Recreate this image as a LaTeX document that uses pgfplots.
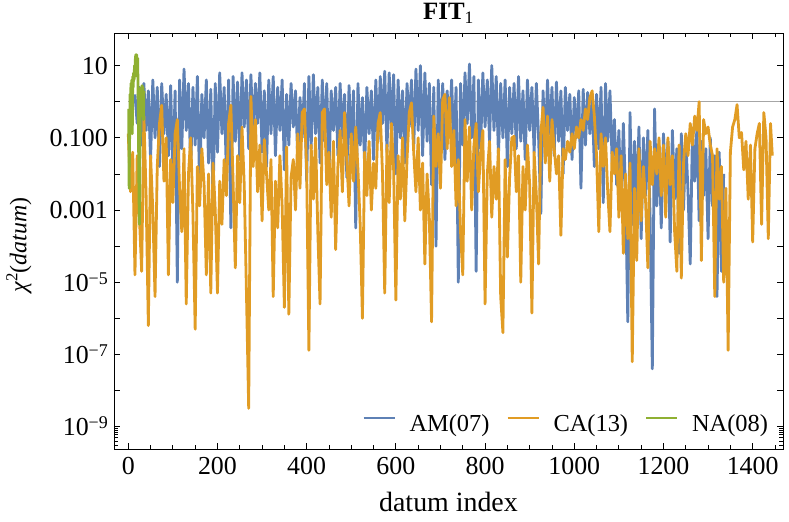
\documentclass[border=0pt]{standalone}
\usepackage{fontspec}
\setmainfont{Liberation Serif}
\usepackage{pgfplots}
\pgfplotsset{compat=1.18}
\definecolor{mblue}{RGB}{94,129,181}
\definecolor{morange}{RGB}{225,156,36}
\definecolor{mgreen}{RGB}{143,176,50}
\newcommand{\tp}[1]{10\raisebox{6.7bp}{\fontsize{18}{18}\selectfont −#1}}
\begin{document}
\begin{tikzpicture}
\begin{axis}[
  scale only axis, width=669bp, height=416bp,
  ymode=log, xmin=-32, xmax=1468, ymin=2.4e-10, ymax=80,
  axis line style={line width=0.8bp, black},
  every tick/.style={black, line width=0.8bp},
  major tick length=6.5bp, minor tick length=4bp,
  xtick={0,200,400,600,800,1000,1200,1400},
  xticklabels={0,200,400,600,800,1000,1200,1400},
  minor xtick={50,100,150,250,300,350,450,500,550,650,700,750,850,900,950,1050,1100,1150,1250,1300,1350,1450},
  ytick={1e-9,1e-8,1e-7,1e-6,1e-5,1e-4,1e-3,1e-2,1e-1,1,10},
  yticklabels={\tp{9},,\tp{7},,\tp{5},,0.001,,0.100,,10},
  minor ytick={3e-10,4e-10,5e-10,6e-10,7e-10,8e-10,9e-10},
  tick label style={font=\fontsize{26}{30}\selectfont},
  yticklabel style={anchor=base east, inner sep=0pt, xshift=-6bp, yshift=-8.8bp},
  xticklabel style={anchor=north, inner sep=0pt, yshift=-8bp},
  title={\textbf{FIT}\textsubscript{1}},
  title style={at={(axis description cs:0.5,1.0185)}, anchor=base, yshift=0pt, inner sep=0pt, font=\fontsize{25}{25}\selectfont},
  xlabel={datum index},
  xlabel style={at={(axis description cs:0.5,-0.1514)}, anchor=base, inner sep=0pt, font=\fontsize{28}{32}\selectfont},
  ylabel={\textit{χ}\textsuperscript{2}(\textit{datum})},
  ylabel style={at={(axis description cs:-0.1308,0.49)}, anchor=base, inner sep=0pt, font=\fontsize{24}{28}\selectfont},
  legend style={draw=none, fill=none, inner sep=0pt, outer sep=0pt,
    at={(axis description cs:0.9776,0.0375)}, anchor=south east,
    font=\fontsize{24.5}{28}\selectfont, nodes={inner sep=0pt},
    /tikz/every odd column/.append style={column sep=14bp},
    /tikz/every even column/.append style={column sep=17bp}},
  legend columns=3,
  legend image code/.code={\draw[#1, line width=2bp] (0bp,6.5bp) -- (31bp,6.5bp);},
]
\coordinate (SW) at (rel axis cs:0,0);
\coordinate (NE) at (rel axis cs:1,1);
\addplot[color=black!35, line width=0.8bp, forget plot] coordinates {(0,1)(1462,1)};
\addplot[color=mblue, line width=2.8bp, line join=round] coordinates {
(15,1.6)(20,2.5e-1)(25,2.5)(30,6.3e-2)(35,3.2)(40,1.6e-1)(45,2)(50,2.5e-2)(55,4)(60,1e-1)(65,2.5)(70,1.6e-2)(75,3.2)(80,1.3e-1)(85,1.6)(90,3.2e-2)(95,2.8)(100,6.3e-3)(105,2)(110,1e-5)(115,4)(120,5e-2)(125,8)(130,1.6e-1)(135,3.2)(140,1.3e-2)(145,2.5)(150,6.3e-2)(155,5)(160,4e-3)(165,1.6)(170,1e-1)(175,4)(180,2e-2)(185,2.2)(190,1.6e-3)(195,3.2)(200,4e-2)(205,6.3)(210,1.3e-1)(215,2.5)(220,1e-2)(225,4)(230,3.2e-4)(235,5)(240,8e-2)(245,3.5)(250,2.5e-2)(255,6.3)(260,2e-1)(265,4)(270,5e-2)(275,5.6)(280,1e-1)(285,3.2)(290,2.5e-1)(295,6.3)(300,4e-2)(305,2)(310,1.6e-2)(315,4)(320,1.3e-1)(325,5)(330,3.2e-2)(335,2.5)(340,1.6e-1)(345,4)(350,1.3e-2)(355,1.6)(360,6.3e-2)(365,3.2)(370,2e-1)(375,2)(380,2.5e-2)(385,1.3)(390,1e-1)(395,3.2)(400,6.3e-3)(405,5)(410,5e-2)(415,5.6)(420,1.3e-1)(425,2.5)(430,2e-2)(435,4)(440,8e-2)(445,3.2)(450,1e-2)(455,2)(460,1.6e-1)(465,2.5)(470,3.2e-2)(475,3.2)(480,1e-1)(485,1.6)(490,8e-3)(495,2.8)(500,5e-2)(505,2)(510,3.2e-4)(515,3.2)(520,6.3e-2)(525,1.3)(530,1.6e-2)(535,2.5)(540,1.3e-1)(545,2)(550,2.5e-2)(555,4)(560,8e-2)(565,5)(570,2.5e-1)(575,7)(580,4e-2)(585,6.3)(590,1.6e-1)(595,5.6)(600,1e-2)(605,4)(610,1e-1)(615,2)(620,2e-2)(625,3.2)(630,2e-1)(635,4)(640,5e-2)(645,8)(650,1.6e-1)(655,10)(660,3.2e-2)(665,6.3)(670,8e-2)(675,3.2)(680,5e-3)(685,2.5)(690,1e-4)(695,4)(700,6.3e-2)(705,3.2)(710,2.5e-2)(715,2)(720,1.3e-1)(725,4)(730,4e-2)(735,2.5)(740,1e-5)(745,3.2)(750,6.3e-2)(755,6.3)(760,2.5e-1)(765,11)(770,1e-1)(775,5)(780,2e-5)(785,4)(790,5e-2)(795,6.3)(800,2e-1)(805,4)(810,8e-2)(815,10)(820,1.6e-1)(825,5)(830,3.2e-2)(835,3.2)(840,1e-1)(845,4)(850,1.6e-2)(855,2.5)(860,1.3e-1)(865,3.2)(870,5e-2)(875,5)(880,8e-2)(885,2)(890,2.5e-2)(895,4)(900,1.6e-1)(905,2.5)(910,4e-2)(915,3.2)(920,1e-1)(925,8e-4)(930,2)(935,6.3e-2)(940,4)(945,1.3e-1)(950,2.5)(955,3.2e-2)(960,3.5)(965,8e-2)(970,2)(975,1e-2)(980,2.5)(985,1.6e-1)(990,1.6)(995,2.5e-2)(1000,1.3)(1005,1e-1)(1010,2)(1015,4e-3)(1020,2.2)(1025,6.3e-2)(1030,1.8)(1035,1.3e-1)(1040,1.3)(1045,1.6e-2)(1050,1.6)(1055,5e-2)(1060,2.5)(1065,1.6e-3)(1070,3.2)(1075,8e-2)(1080,2)(1085,2e-2)(1090,3.2e-1)(1095,5e-3)(1100,1.6e-1)(1105,1e-3)(1110,2.5e-1)(1115,3.2e-3)(1120,8e-7)(1125,5e-1)(1130,4e-4)(1135,8e-2)(1140,1.6e-3)(1145,2e-1)(1150,1.6e-4)(1155,1e-1)(1160,2.5e-3)(1165,1.6e-1)(1170,6.3e-4)(1175,4e-8)(1180,6.3e-1)(1185,1.3e-3)(1190,6.3e-2)(1195,3.2e-4)(1200,1.3e-1)(1205,4e-3)(1210,8e-2)(1215,1.3e-4)(1220,1.6e-1)(1225,2e-3)(1230,5e-2)(1235,6.3e-5)(1240,1.3e-1)(1245,1e-3)(1250,1e-1)(1255,3.2e-3)(1260,3.2e-5)(1265,1.6e-1)(1270,6.3e-3)(1275,2e-1)(1280,5e-4)(1285,8e-2)(1290,2.5e-3)(1295,5e-2)(1300,1.6e-4)(1305,1e-1)(1310,1.3e-3)(1315,3.2e-2)(1320,4e-6)(1325,4e-2)(1330,2e-5)(1335,1e-2)
};
\addlegendentry{AM(07)}
\addplot[color=morange, line width=2.8bp, line join=round] coordinates {
(0,1.3e-1)(5,3.2e-3)(10,4e-2)(15,1.6e-5)(20,3.2e-2)(25,6.3e-4)(30,2e-5)(35,4e-1)(40,2.5e-3)(45,6.3e-7)(50,3.2e-2)(55,1e-3)(60,4e-6)(65,1.6e-2)(70,2.5e-1)(75,8e-1)(80,6.3e-3)(85,1e-1)(90,1.6e-5)(95,2.5e-2)(100,1.6e-3)(105,1.3e-1)(110,3.2e-1)(115,4e-3)(120,2.5e-4)(125,5e-2)(130,2.5e-6)(135,1e-2)(140,1e-1)(145,8e-4)(150,5e-7)(155,1.6e-2)(160,1.3e-3)(165,5e-2)(170,5e-3)(175,1.6e-5)(180,1e-2)(185,5e-6)(190,2e-2)(195,1e-3)(200,5e-6)(205,6.3e-3)(210,4e-4)(215,2.5e-2)(220,2.5e-3)(225,2.5e-1)(230,8e-1)(235,6.3e-3)(240,2.5e-5)(245,3.2e-2)(250,1.6e-3)(255,2e-1)(260,5e-3)(265,5e-6)(270,3.2e-9)(275,1.4)(280,1.6e-2)(285,3.2e-1)(290,3.2e-3)(295,6.3e-2)(300,5e-4)(305,9e-2)(310,1e-2)(315,1e-3)(320,2.5e-2)(325,4e-6)(330,6.3e-3)(335,3.2e-4)(340,3.2e-2)(345,1.3e-3)(350,2e-6)(355,5.6e-2)(360,1.3e-6)(365,8e-3)(370,2.5e-2)(375,1e-3)(380,1.3e-1)(385,4e-3)(390,5e-1)(395,6.3e-1)(400,1.3e-2)(405,1.3e-7)(410,6.3e-2)(415,2e-3)(420,1e-1)(425,2.5e-4)(430,2.5e-6)(435,5e-1)(440,6.3e-1)(445,5e-3)(450,4e-2)(455,6.3e-4)(460,8e-2)(465,8e-5)(470,1.6e-2)(475,1.6e-1)(480,3.2e-3)(485,5e-1)(490,2.5e-2)(495,1.3e-3)(500,1.3e-1)(505,6.3e-3)(510,2e-1)(515,1.3e-2)(520,4e-4)(525,1e-6)(530,4e-2)(535,2.5e-3)(540,8e-2)(545,1e-3)(550,2e-2)(555,4e-3)(560,2.5e-1)(565,5e-1)(570,1e-2)(575,5e-6)(580,6.3e-2)(585,1.6e-3)(590,2.5e-1)(595,1.3e-2)(600,3.2e-6)(605,3.2e-2)(610,2e-3)(615,1e-1)(620,5e-4)(625,2.5e-2)(630,5e-1)(635,9.3e-1)(640,4e-2)(645,3.2e-3)(650,1e-1)(655,1e-3)(660,2e-2)(665,3.2e-5)(670,1e-2)(675,6.3e-4)(680,8e-7)(685,4e-1)(690,1.6e-2)(695,1.3e-1)(700,4e-3)(705,1.15)(710,1.6)(715,5e-2)(720,1.3)(725,1.6e-2)(730,1.6e-1)(735,1.3e-3)(740,2.5e-2)(745,2.5e-4)(750,1.6e-5)(755,3.2e-1)(760,6.3e-3)(765,2e-1)(770,1e-3)(775,6.3e-2)(780,2.5e-1)(785,3.2e-3)(790,4e-2)(795,1.6e-1)(800,2.5e-6)(805,1e-2)(810,8e-2)(815,6.3e-4)(820,1.6e-2)(825,2e-3)(830,5e-2)(835,4e-6)(840,4e-7)(845,2.5e-2)(850,5e-5)(855,8e-3)(860,1e-1)(865,1.1e-1)(870,3.2e-3)(875,3.2e-2)(880,1e-5)(885,1.6e-2)(890,1e-3)(895,6.3e-2)(900,5e-3)(905,1.4e-6)(910,4e-2)(915,2.5e-3)(920,3.2e-5)(925,1.3e-1)(930,7e-1)(935,2e-2)(940,4e-1)(945,6.3e-3)(950,3.2e-1)(955,5e-2)(960,1e-2)(965,3.2e-2)(970,2e-4)(975,5e-2)(980,2.5e-2)(985,8e-2)(990,4e-2)(995,1.3e-1)(1000,5e-2)(1005,2e-1)(1010,1e-1)(1015,3.2e-1)(1020,1.6e-1)(1025,6.3e-1)(1030,3.2e-1)(1035,1.3)(1040,2)(1045,4e-1)(1050,3.2e-2)(1055,2.5e-4)(1060,1.3e-1)(1065,1.6e-2)(1070,1e-1)(1075,3.2e-3)(1080,2.5e-4)(1085,4e-2)(1090,1e-2)(1095,5e-2)(1100,6.3e-4)(1105,3.2e-2)(1110,6.3e-5)(1115,1e-2)(1120,1.6e-4)(1125,2e-2)(1130,6.3e-8)(1135,4e-3)(1140,4e-5)(1145,5e-2)(1150,5e-4)(1155,1.6e-2)(1160,1.6e-3)(1165,2.5e-5)(1170,8e-2)(1175,5e-3)(1180,5e-2)(1185,1e-2)(1190,1e-1)(1195,2.5e-3)(1200,6.3e-2)(1205,6.3e-4)(1210,1e-1)(1215,5e-3)(1220,3.2e-2)(1225,2.5e-4)(1230,2e-5)(1235,6.3e-2)(1240,1.3e-5)(1245,2e-2)(1250,1.3e-1)(1255,3.2e-2)(1260,2.5e-1)(1265,6.3e-2)(1270,4e-1)(1275,1.6e-1)(1280,1)(1285,4e-5)(1290,3.2e-1)(1295,1.3e-1)(1300,2e-1)(1305,6.3e-2)(1310,3.2e-2)(1315,4e-6)(1320,5e-2)(1325,2e-3)(1330,1.6e-2)(1335,1e-5)(1340,4e-3)(1345,1.3e-7)(1350,4e-2)(1355,2e-1)(1360,3.2e-1)(1365,8.3e-1)(1370,1e-1)(1375,1.4e-1)(1380,1.3e-2)(1385,8e-2)(1390,2e-3)(1395,6.3e-2)(1400,1.3e-4)(1405,5e-2)(1410,1.3e-1)(1415,2.5e-1)(1420,4e-4)(1425,5e-1)(1430,1e-1)(1435,1.6e-4)(1440,2.5e-1)(1444,3.2e-2)
};
\addlegendentry{CA(13)}
\addplot[color=mgreen, line width=2.8bp, line join=round] coordinates {
(1,6.3e-1)(2,4e-3)(3,1e-1)(4,1.6)(5,3.2e-1)(6,3.2)(7,2)(8,4)(9,1.3e-1)(10,5)(11,2.5)(12,6.3)(13,4)(14,10)(15,5)(16,16)(17,20)(18,12.6)(19,20)(20,8)(21,16)(22,2)(23,1e-1)(24,3.2e-3)(25,4e-4)(26,3.2e-2)(27,3.2e-1)(28,2)(29,2.5)(30,1.6)(31,2.8)(32,5e-1)(33,2.5)(34,3.2e-1)(35,2)
};
\addlegendentry{NA(08)}
\end{axis}
\pgfresetboundingbox
\path[use as bounding box] ([shift={(-114bp,-73bp)}]SW) rectangle ([shift={(6bp,33bp)}]NE);
\end{tikzpicture}
\end{document}
